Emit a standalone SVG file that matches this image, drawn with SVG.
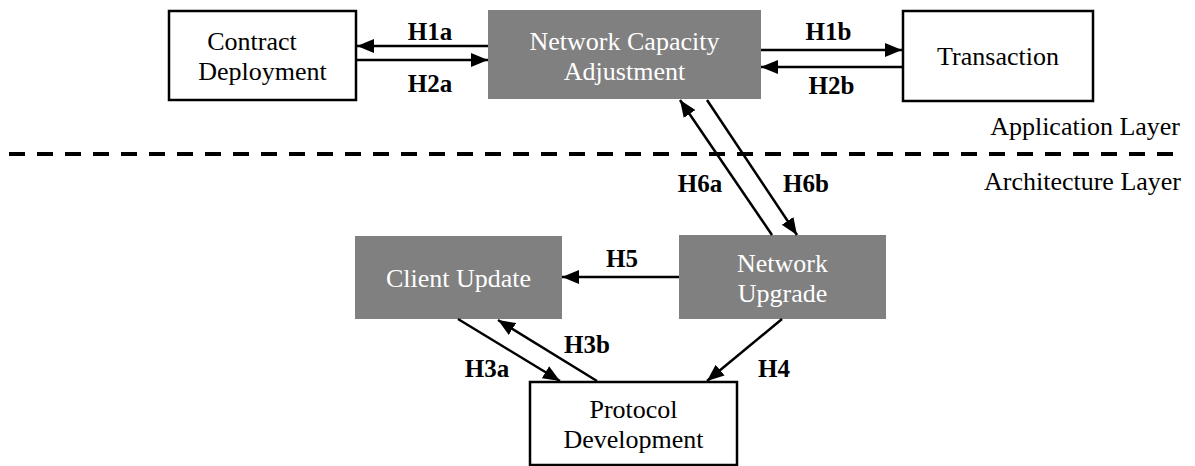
<svg xmlns="http://www.w3.org/2000/svg" width="1195" height="466" viewBox="0 0 1195 466">
  <style>
    .box { fill: #ffffff; stroke: #000000; stroke-width: 2.5; }
    .gbox { fill: #808080; stroke: none; }
    .edge { stroke: #000000; stroke-width: 2.5; fill: none; marker-end: url(#arrow); }
    .divider { stroke: #000000; stroke-width: 4; stroke-dasharray: 16 12; }
  </style>
  <defs>
    <marker id="arrow" markerUnits="userSpaceOnUse" markerWidth="18" markerHeight="15" refX="17" refY="7" orient="auto">
      <path d="M0,0 L17,7 L0,14 z" fill="#000000"/>
    </marker>
  </defs>
  <rect width="1195" height="466" fill="#ffffff"/>

  <!-- layer divider and layer captions -->
  <line class="divider" x1="9" y1="154" x2="1175" y2="154"/>
  <text x="1180" y="135" font-family="Liberation Serif" font-size="26" text-anchor="end" fill="#000000">Application Layer</text>
  <text x="1181" y="190" font-family="Liberation Serif" font-size="26" text-anchor="end" fill="#000000">Architecture Layer</text>

  <g id="contract-deployment">
    <rect class="box" x="169" y="11" width="187" height="89"/>
    <text x="252" y="50" font-family="Liberation Serif" font-size="26" text-anchor="middle" fill="#000000">Contract</text>
    <text x="262.5" y="80" font-family="Liberation Serif" font-size="26" text-anchor="middle" fill="#000000">Deployment</text>
  </g>
  <g id="network-capacity-adjustment">
    <rect class="gbox" x="488" y="10" width="273" height="89"/>
    <text x="624.5" y="50" font-family="Liberation Serif" font-size="26" text-anchor="middle" fill="#ffffff">Network Capacity</text>
    <text x="624.5" y="80" font-family="Liberation Serif" font-size="26" text-anchor="middle" fill="#ffffff">Adjustment</text>
  </g>
  <g id="transaction">
    <rect class="box" x="903" y="11" width="190" height="90"/>
    <text x="998" y="65" font-family="Liberation Serif" font-size="26" text-anchor="middle" fill="#000000">Transaction</text>
  </g>
  <g id="client-update">
    <rect class="gbox" x="355" y="236" width="207" height="83"/>
    <text x="458.5" y="287" font-family="Liberation Serif" font-size="26" text-anchor="middle" fill="#ffffff">Client Update</text>
  </g>
  <g id="network-upgrade">
    <rect class="gbox" x="679" y="235" width="207" height="84"/>
    <text x="782.5" y="272" font-family="Liberation Serif" font-size="26" text-anchor="middle" fill="#ffffff">Network</text>
    <text x="782.5" y="302" font-family="Liberation Serif" font-size="26" text-anchor="middle" fill="#ffffff">Upgrade</text>
  </g>
  <g id="protocol-development">
    <rect class="box" x="530" y="382" width="207" height="83"/>
    <text x="633.5" y="418" font-family="Liberation Serif" font-size="26" text-anchor="middle" fill="#000000">Protocol</text>
    <text x="633.5" y="448" font-family="Liberation Serif" font-size="26" text-anchor="middle" fill="#000000">Development</text>
  </g>

  <g id="connectors">
    <line class="edge" x1="488" y1="46" x2="357" y2="46"/>
    <line class="edge" x1="357" y1="60" x2="488" y2="60"/>
    <line class="edge" x1="761" y1="50" x2="902" y2="50"/>
    <line class="edge" x1="902" y1="67" x2="761" y2="67"/>
    <line class="edge" x1="772" y1="235" x2="680" y2="100"/>
    <line class="edge" x1="707" y1="100" x2="797" y2="235"/>
    <line class="edge" x1="679" y1="277" x2="562" y2="277"/>
    <line class="edge" x1="458" y1="319" x2="560" y2="381"/>
    <line class="edge" x1="597" y1="381" x2="498" y2="320"/>
    <line class="edge" x1="782" y1="319" x2="707" y2="381"/>

    <g font-family="Liberation Serif" font-size="25" font-weight="bold" text-anchor="middle" fill="#000000">
      <text x="430" y="40" font-family="Liberation Serif">H1a</text>
      <text x="430" y="92" font-family="Liberation Serif">H2a</text>
      <text x="828.5" y="40" font-family="Liberation Serif">H1b</text>
      <text x="831.5" y="94" font-family="Liberation Serif">H2b</text>
      <text x="700" y="192" font-family="Liberation Serif">H6a</text>
      <text x="806" y="192" font-family="Liberation Serif">H6b</text>
      <text x="622" y="267" font-family="Liberation Serif">H5</text>
      <text x="487" y="377" font-family="Liberation Serif">H3a</text>
      <text x="587" y="353" font-family="Liberation Serif">H3b</text>
      <text x="774" y="377" font-family="Liberation Serif">H4</text>
    </g>
  </g>
</svg>
